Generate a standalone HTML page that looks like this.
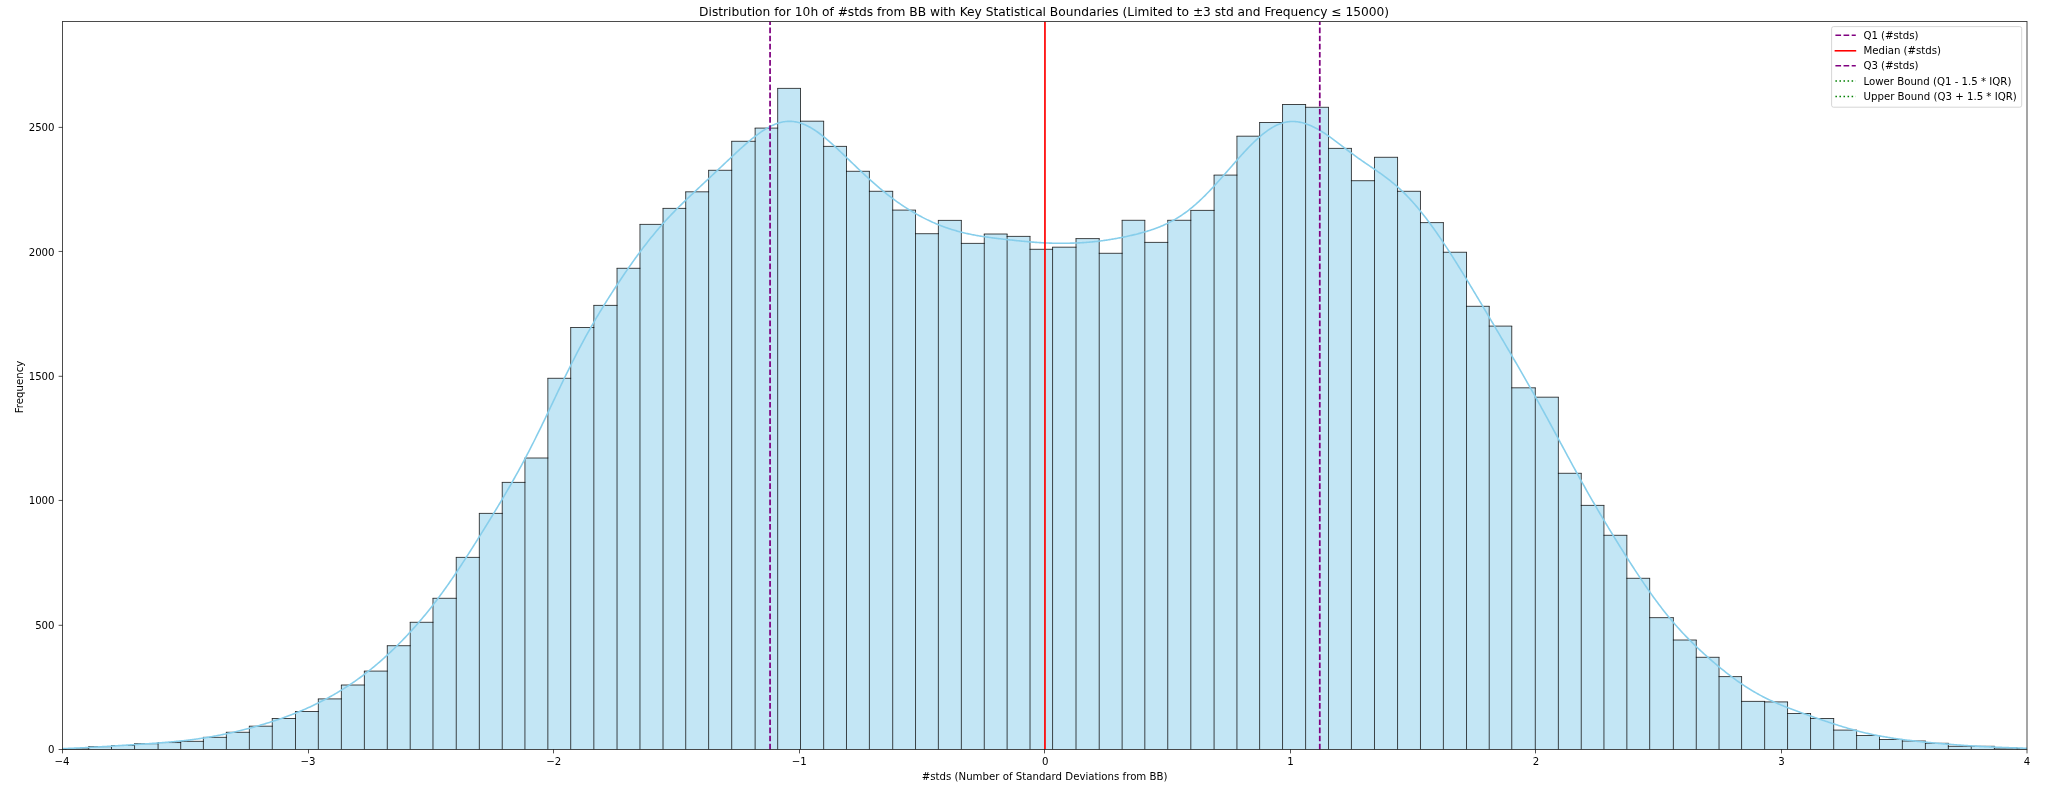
<!DOCTYPE html>
<html lang="en"><head><meta charset="utf-8"><title>Distribution for 10h of #stds from BB</title>
<style>html,body{margin:0;padding:0;background:#fff;}body{width:2047px;height:788px;overflow:hidden;}svg{display:block;}text{font-family:"DejaVu Sans","Liberation Sans",sans-serif;fill:#000;}text{filter:grayscale(1);}</style></head><body>
<svg width="2047" height="788" viewBox="0 0 2047 788">
<rect x="0" y="0" width="2047" height="788" fill="#fff"/>
<defs><clipPath id="ax"><rect x="62.5" y="21.5" width="1964.5" height="728"/></clipPath></defs>
<g clip-path="url(#ax)">
<g fill="#87ceeb" fill-opacity="0.5">
<rect x="19.96" y="749.4" width="22.96" height="0.1"/>
<rect x="42.91" y="749.3" width="22.96" height="0.2"/>
<rect x="65.87" y="748.9" width="22.86" height="0.6"/>
<rect x="88.73" y="746.65" width="22.76" height="2.85"/>
<rect x="111.5" y="745.5" width="23.06" height="4"/>
<rect x="134.56" y="743.7" width="23.51" height="5.8"/>
<rect x="158.08" y="742.55" width="22.61" height="6.95"/>
<rect x="180.69" y="741.35" width="22.69" height="8.15"/>
<rect x="203.38" y="737.35" width="22.99" height="12.15"/>
<rect x="226.37" y="732.3" width="22.99" height="17.2"/>
<rect x="249.36" y="726.2" width="22.91" height="23.3"/>
<rect x="272.27" y="718.5" width="23.21" height="31"/>
<rect x="295.49" y="711.5" width="22.84" height="38"/>
<rect x="318.33" y="698.9" width="23.06" height="50.6"/>
<rect x="341.39" y="685" width="22.99" height="64.5"/>
<rect x="364.38" y="671.1" width="22.91" height="78.4"/>
<rect x="387.3" y="645.7" width="22.91" height="103.8"/>
<rect x="410.21" y="622.3" width="22.76" height="127.2"/>
<rect x="432.97" y="598.3" width="23.29" height="151.2"/>
<rect x="456.26" y="557.4" width="23.06" height="192.1"/>
<rect x="479.33" y="513.4" width="22.91" height="236.1"/>
<rect x="502.24" y="482.4" width="22.69" height="267.1"/>
<rect x="524.93" y="458" width="22.91" height="291.5"/>
<rect x="547.85" y="378.3" width="22.84" height="371.2"/>
<rect x="570.69" y="327.5" width="23.14" height="422"/>
<rect x="593.83" y="305.4" width="23.21" height="444.1"/>
<rect x="617.04" y="268.3" width="22.91" height="481.2"/>
<rect x="639.96" y="224.4" width="23.06" height="525.1"/>
<rect x="663.02" y="208.4" width="22.69" height="541.1"/>
<rect x="685.71" y="191.8" width="22.91" height="557.7"/>
<rect x="708.62" y="170.3" width="23.06" height="579.2"/>
<rect x="731.69" y="141.3" width="23.44" height="608.2"/>
<rect x="755.13" y="128.1" width="22.54" height="621.4"/>
<rect x="777.67" y="88.4" width="22.84" height="661.1"/>
<rect x="800.51" y="121.2" width="23.14" height="628.3"/>
<rect x="823.65" y="146.4" width="22.84" height="603.1"/>
<rect x="846.49" y="171.3" width="22.91" height="578.2"/>
<rect x="869.4" y="191.3" width="23.29" height="558.2"/>
<rect x="892.69" y="210.1" width="22.84" height="539.4"/>
<rect x="915.53" y="233.7" width="22.84" height="515.8"/>
<rect x="938.37" y="220.4" width="22.99" height="529.1"/>
<rect x="961.36" y="243.4" width="22.91" height="506.1"/>
<rect x="984.27" y="234" width="22.84" height="515.5"/>
<rect x="1007.11" y="236.4" width="22.91" height="513.1"/>
<rect x="1030.03" y="249.3" width="22.54" height="500.2"/>
<rect x="1052.57" y="247.2" width="23.44" height="502.3"/>
<rect x="1076.01" y="238.6" width="23.21" height="510.9"/>
<rect x="1099.22" y="253.3" width="22.91" height="496.2"/>
<rect x="1122.13" y="220.3" width="22.69" height="529.2"/>
<rect x="1144.82" y="242.4" width="22.91" height="507.1"/>
<rect x="1167.74" y="220.3" width="23.06" height="529.2"/>
<rect x="1190.8" y="210.4" width="23.29" height="539.1"/>
<rect x="1214.09" y="175.1" width="22.84" height="574.4"/>
<rect x="1236.93" y="136.2" width="22.69" height="613.3"/>
<rect x="1259.62" y="122.5" width="22.91" height="627"/>
<rect x="1282.54" y="104.5" width="23.06" height="645"/>
<rect x="1305.6" y="107.3" width="22.91" height="642.2"/>
<rect x="1328.52" y="148.4" width="22.91" height="601.1"/>
<rect x="1351.43" y="180.7" width="23.06" height="568.8"/>
<rect x="1374.49" y="157.3" width="23.06" height="592.2"/>
<rect x="1397.56" y="191.3" width="22.91" height="558.2"/>
<rect x="1420.47" y="222.6" width="22.91" height="526.9"/>
<rect x="1443.39" y="252.25" width="23.14" height="497.25"/>
<rect x="1466.53" y="306.3" width="22.69" height="443.2"/>
<rect x="1489.22" y="326.1" width="22.54" height="423.4"/>
<rect x="1511.76" y="387.8" width="23.55" height="361.7"/>
<rect x="1535.31" y="397.2" width="23.06" height="352.3"/>
<rect x="1558.37" y="473.3" width="22.88" height="276.2"/>
<rect x="1581.25" y="505.4" width="22.69" height="244.1"/>
<rect x="1603.94" y="535.3" width="22.91" height="214.2"/>
<rect x="1626.85" y="578.3" width="22.8" height="171.2"/>
<rect x="1649.66" y="617.65" width="23.7" height="131.85"/>
<rect x="1673.36" y="640" width="22.91" height="109.5"/>
<rect x="1696.27" y="657.3" width="22.76" height="92.2"/>
<rect x="1719.04" y="676.6" width="22.54" height="72.9"/>
<rect x="1741.58" y="701.4" width="23.06" height="48.1"/>
<rect x="1764.64" y="701.9" width="22.91" height="47.6"/>
<rect x="1787.56" y="713.5" width="22.99" height="36"/>
<rect x="1810.55" y="718.5" width="23.14" height="31"/>
<rect x="1833.68" y="730.1" width="22.91" height="19.4"/>
<rect x="1856.6" y="735.5" width="22.91" height="14"/>
<rect x="1879.51" y="739.5" width="22.84" height="10"/>
<rect x="1902.35" y="741" width="23.06" height="8.5"/>
<rect x="1925.42" y="743.3" width="22.91" height="6.2"/>
<rect x="1948.33" y="746.3" width="22.91" height="3.2"/>
<rect x="1971.25" y="746.3" width="23.14" height="3.2"/>
<rect x="1994.39" y="748" width="22.76" height="1.5"/>
<rect x="2017.15" y="748.6" width="23.11" height="0.9"/>
<rect x="2040.26" y="749" width="22.96" height="0.5"/>
<rect x="2063.22" y="749.3" width="22.96" height="0.2"/>
</g>
<path d="M19.51 749.4h23.86M19.96 749.4V749.5M42.46 749.3h23.86M42.91 749.3V749.5M65.42 748.9h23.76M65.87 748.9V749.5M88.28 746.65h23.66M88.73 746.65V749.5M111.05 745.5h23.96M111.5 745.5V749.5M134.11 743.7h24.41M134.56 743.7V749.5M157.63 742.55h23.51M158.08 742.55V749.5M180.24 741.35h23.59M180.69 741.35V749.5M202.93 737.35h23.89M203.38 737.35V749.5M225.92 732.3h23.89M226.37 732.3V749.5M248.91 726.2h23.81M249.36 726.2V749.5M271.82 718.5h24.11M272.27 718.5V749.5M295.04 711.5h23.74M295.49 711.5V749.5M317.88 698.9h23.96M318.33 698.9V749.5M340.94 685h23.89M341.39 685V749.5M363.93 671.1h23.81M364.38 671.1V749.5M386.85 645.7h23.81M387.3 645.7V749.5M409.76 622.3h23.66M410.21 622.3V749.5M432.52 598.3h24.19M432.97 598.3V749.5M455.81 557.4h23.96M456.26 557.4V749.5M478.88 513.4h23.81M479.33 513.4V749.5M501.79 482.4h23.59M502.24 482.4V749.5M524.48 458h23.81M524.93 458V749.5M547.4 378.3h23.74M547.85 378.3V749.5M570.24 327.5h24.04M570.69 327.5V749.5M593.38 305.4h24.11M593.83 305.4V749.5M616.59 268.3h23.81M617.04 268.3V749.5M639.51 224.4h23.96M639.96 224.4V749.5M662.57 208.4h23.59M663.02 208.4V749.5M685.26 191.8h23.81M685.71 191.8V749.5M708.17 170.3h23.96M708.62 170.3V749.5M731.24 141.3h24.34M731.69 141.3V749.5M754.68 128.1h23.44M755.13 128.1V749.5M777.22 88.4h23.74M777.67 88.4V749.5M800.06 121.2h24.04M800.51 88.4V749.5M823.2 146.4h23.74M823.65 121.2V749.5M846.04 171.3h23.81M846.49 146.4V749.5M868.95 191.3h24.19M869.4 171.3V749.5M892.24 210.1h23.74M892.69 191.3V749.5M915.08 233.7h23.74M915.53 210.1V749.5M937.92 220.4h23.89M938.37 220.4V749.5M960.91 243.4h23.81M961.36 220.4V749.5M983.82 234h23.74M984.27 234V749.5M1006.66 236.4h23.81M1007.11 234V749.5M1029.58 249.3h23.44M1030.03 236.4V749.5M1052.12 247.2h24.34M1052.57 247.2V749.5M1075.56 238.6h24.11M1076.01 238.6V749.5M1098.77 253.3h23.81M1099.22 238.6V749.5M1121.68 220.3h23.59M1122.13 220.3V749.5M1144.37 242.4h23.81M1144.82 220.3V749.5M1167.29 220.3h23.96M1167.74 220.3V749.5M1190.35 210.4h24.19M1190.8 210.4V749.5M1213.64 175.1h23.74M1214.09 175.1V749.5M1236.48 136.2h23.59M1236.93 136.2V749.5M1259.17 122.5h23.81M1259.62 122.5V749.5M1282.09 104.5h23.96M1282.54 104.5V749.5M1305.15 107.3h23.81M1305.6 104.5V749.5M1328.07 148.4h23.81M1328.52 107.3V749.5M1350.98 180.7h23.96M1351.43 148.4V749.5M1374.04 157.3h23.96M1374.49 157.3V749.5M1397.11 191.3h23.81M1397.56 157.3V749.5M1420.02 222.6h23.81M1420.47 191.3V749.5M1442.94 252.25h24.04M1443.39 222.6V749.5M1466.08 306.3h23.59M1466.53 252.25V749.5M1488.77 326.1h23.44M1489.22 306.3V749.5M1511.31 387.8h24.45M1511.76 326.1V749.5M1534.86 397.2h23.96M1535.31 387.8V749.5M1557.92 473.3h23.78M1558.37 397.2V749.5M1580.8 505.4h23.59M1581.25 473.3V749.5M1603.49 535.3h23.81M1603.94 505.4V749.5M1626.4 578.3h23.7M1626.85 535.3V749.5M1649.21 617.65h24.6M1649.66 578.3V749.5M1672.91 640h23.81M1673.36 617.65V749.5M1695.82 657.3h23.66M1696.27 640V749.5M1718.59 676.6h23.44M1719.04 657.3V749.5M1741.13 701.4h23.96M1741.58 676.6V749.5M1764.19 701.9h23.81M1764.64 701.4V749.5M1787.11 713.5h23.89M1787.56 701.9V749.5M1810.1 718.5h24.04M1810.55 713.5V749.5M1833.23 730.1h23.81M1833.68 718.5V749.5M1856.15 735.5h23.81M1856.6 730.1V749.5M1879.06 739.5h23.74M1879.51 735.5V749.5M1901.9 741h23.96M1902.35 739.5V749.5M1924.97 743.3h23.81M1925.42 741V749.5M1947.88 746.3h23.81M1948.33 743.3V749.5M1970.8 746.3h24.04M1971.25 746.3V749.5M1993.94 748h23.66M1994.39 746.3V749.5M2016.7 748.6h24.01M2017.15 748V749.5M2039.81 749h23.86M2040.26 748.6V749.5M2062.77 749.3h23.86M2063.22 749V749.5M2086.18 749.3V749.5" fill="none" stroke="#000" stroke-opacity="0.8" stroke-width="0.9"/>
<path d="M2.5 749.45 L3.5 749.44 L4.5 749.44 L5.5 749.44 L6.5 749.43 L7.5 749.43 L8.5 749.43 L9.5 749.42 L10.5 749.42 L11.5 749.41 L12.5 749.41 L13.5 749.4 L14.5 749.4 L15.5 749.39 L16.5 749.39 L17.5 749.38 L18.5 749.38 L19.5 749.37 L20.5 749.36 L21.5 749.36 L22.5 749.35 L23.5 749.34 L24.5 749.33 L25.5 749.33 L26.5 749.32 L27.5 749.31 L28.5 749.3 L29.5 749.29 L30.5 749.28 L31.5 749.27 L32.5 749.26 L33.5 749.24 L34.5 749.23 L35.5 749.22 L36.5 749.21 L37.5 749.19 L38.5 749.18 L39.5 749.16 L40.5 749.15 L41.5 749.13 L42.5 749.11 L43.5 749.1 L44.5 749.08 L45.5 749.06 L46.5 749.04 L47.5 749.02 L48.5 749 L49.5 748.98 L50.5 748.95 L51.5 748.93 L52.5 748.91 L53.5 748.88 L54.5 748.86 L55.5 748.83 L56.5 748.8 L57.5 748.77 L58.5 748.74 L59.5 748.71 L60.5 748.68 L61.5 748.65 L62.5 748.62 L63.5 748.59 L64.5 748.55 L65.5 748.52 L66.5 748.48 L67.5 748.44 L68.5 748.41 L69.5 748.37 L70.5 748.33 L71.5 748.29 L72.5 748.25 L73.5 748.21 L74.5 748.16 L75.5 748.12 L76.5 748.07 L77.5 748.03 L78.5 747.98 L79.5 747.94 L80.5 747.89 L81.5 747.84 L82.5 747.79 L83.5 747.74 L84.5 747.69 L85.5 747.64 L86.5 747.59 L87.5 747.53 L88.5 747.48 L89.5 747.43 L90.5 747.37 L91.5 747.32 L92.5 747.26 L93.5 747.2 L94.5 747.15 L95.5 747.09 L96.5 747.03 L97.5 746.97 L98.5 746.91 L99.5 746.85 L100.5 746.79 L101.5 746.73 L102.5 746.67 L103.5 746.61 L104.5 746.55 L105.5 746.49 L106.5 746.43 L107.5 746.37 L108.5 746.3 L109.5 746.24 L110.5 746.18 L111.5 746.12 L112.5 746.05 L113.5 745.99 L114.5 745.93 L115.5 745.86 L116.5 745.8 L117.5 745.73 L118.5 745.67 L119.5 745.61 L120.5 745.54 L121.5 745.48 L122.5 745.41 L123.5 745.35 L124.5 745.28 L125.5 745.22 L126.5 745.15 L127.5 745.09 L128.5 745.02 L129.5 744.96 L130.5 744.89 L131.5 744.83 L132.5 744.76 L133.5 744.69 L134.5 744.63 L135.5 744.56 L136.5 744.5 L137.5 744.43 L138.5 744.36 L139.5 744.3 L140.5 744.23 L141.5 744.16 L142.5 744.09 L143.5 744.03 L144.5 743.96 L145.5 743.89 L146.5 743.82 L147.5 743.75 L148.5 743.68 L149.5 743.61 L150.5 743.54 L151.5 743.47 L152.5 743.4 L153.5 743.33 L154.5 743.25 L155.5 743.18 L156.5 743.1 L157.5 743.03 L158.5 742.95 L159.5 742.88 L160.5 742.8 L161.5 742.72 L162.5 742.64 L163.5 742.56 L164.5 742.48 L165.5 742.4 L166.5 742.31 L167.5 742.23 L168.5 742.14 L169.5 742.06 L170.5 741.97 L171.5 741.88 L172.5 741.79 L173.5 741.69 L174.5 741.6 L175.5 741.5 L176.5 741.41 L177.5 741.31 L178.5 741.21 L179.5 741.11 L180.5 741 L181.5 740.9 L182.5 740.79 L183.5 740.68 L184.5 740.57 L185.5 740.45 L186.5 740.34 L187.5 740.22 L188.5 740.1 L189.5 739.98 L190.5 739.85 L191.5 739.73 L192.5 739.6 L193.5 739.47 L194.5 739.33 L195.5 739.2 L196.5 739.06 L197.5 738.92 L198.5 738.78 L199.5 738.63 L200.5 738.48 L201.5 738.33 L202.5 738.18 L203.5 738.03 L204.5 737.87 L205.5 737.71 L206.5 737.55 L207.5 737.38 L208.5 737.22 L209.5 737.05 L210.5 736.87 L211.5 736.7 L212.5 736.52 L213.5 736.34 L214.5 736.16 L215.5 735.97 L216.5 735.79 L217.5 735.6 L218.5 735.4 L219.5 735.21 L220.5 735.01 L221.5 734.81 L222.5 734.61 L223.5 734.4 L224.5 734.2 L225.5 733.99 L226.5 733.77 L227.5 733.56 L228.5 733.34 L229.5 733.12 L230.5 732.9 L231.5 732.68 L232.5 732.45 L233.5 732.22 L234.5 731.99 L235.5 731.75 L236.5 731.52 L237.5 731.28 L238.5 731.04 L239.5 730.79 L240.5 730.55 L241.5 730.3 L242.5 730.05 L243.5 729.79 L244.5 729.54 L245.5 729.28 L246.5 729.02 L247.5 728.76 L248.5 728.5 L249.5 728.23 L250.5 727.96 L251.5 727.69 L252.5 727.41 L253.5 727.14 L254.5 726.86 L255.5 726.58 L256.5 726.29 L257.5 726.01 L258.5 725.72 L259.5 725.43 L260.5 725.14 L261.5 724.84 L262.5 724.54 L263.5 724.24 L264.5 723.94 L265.5 723.64 L266.5 723.33 L267.5 723.02 L268.5 722.71 L269.5 722.39 L270.5 722.07 L271.5 721.75 L272.5 721.43 L273.5 721.1 L274.5 720.77 L275.5 720.44 L276.5 720.1 L277.5 719.77 L278.5 719.43 L279.5 719.08 L280.5 718.74 L281.5 718.39 L282.5 718.03 L283.5 717.68 L284.5 717.32 L285.5 716.95 L286.5 716.59 L287.5 716.22 L288.5 715.85 L289.5 715.47 L290.5 715.09 L291.5 714.71 L292.5 714.32 L293.5 713.93 L294.5 713.54 L295.5 713.14 L296.5 712.74 L297.5 712.33 L298.5 711.92 L299.5 711.51 L300.5 711.09 L301.5 710.67 L302.5 710.24 L303.5 709.81 L304.5 709.38 L305.5 708.94 L306.5 708.5 L307.5 708.05 L308.5 707.6 L309.5 707.15 L310.5 706.69 L311.5 706.22 L312.5 705.75 L313.5 705.28 L314.5 704.8 L315.5 704.32 L316.5 703.83 L317.5 703.34 L318.5 702.85 L319.5 702.34 L320.5 701.84 L321.5 701.33 L322.5 700.81 L323.5 700.29 L324.5 699.77 L325.5 699.24 L326.5 698.7 L327.5 698.16 L328.5 697.62 L329.5 697.07 L330.5 696.51 L331.5 695.95 L332.5 695.39 L333.5 694.82 L334.5 694.24 L335.5 693.66 L336.5 693.07 L337.5 692.48 L338.5 691.88 L339.5 691.28 L340.5 690.67 L341.5 690.06 L342.5 689.44 L343.5 688.81 L344.5 688.18 L345.5 687.54 L346.5 686.9 L347.5 686.25 L348.5 685.6 L349.5 684.94 L350.5 684.27 L351.5 683.6 L352.5 682.92 L353.5 682.23 L354.5 681.54 L355.5 680.84 L356.5 680.13 L357.5 679.42 L358.5 678.7 L359.5 677.98 L360.5 677.25 L361.5 676.51 L362.5 675.77 L363.5 675.01 L364.5 674.26 L365.5 673.49 L366.5 672.72 L367.5 671.94 L368.5 671.15 L369.5 670.36 L370.5 669.56 L371.5 668.75 L372.5 667.94 L373.5 667.12 L374.5 666.29 L375.5 665.45 L376.5 664.61 L377.5 663.76 L378.5 662.91 L379.5 662.04 L380.5 661.17 L381.5 660.29 L382.5 659.41 L383.5 658.52 L384.5 657.62 L385.5 656.71 L386.5 655.8 L387.5 654.88 L388.5 653.95 L389.5 653.01 L390.5 652.07 L391.5 651.12 L392.5 650.17 L393.5 649.2 L394.5 648.23 L395.5 647.26 L396.5 646.27 L397.5 645.28 L398.5 644.28 L399.5 643.27 L400.5 642.26 L401.5 641.24 L402.5 640.21 L403.5 639.18 L404.5 638.13 L405.5 637.08 L406.5 636.02 L407.5 634.96 L408.5 633.89 L409.5 632.81 L410.5 631.72 L411.5 630.62 L412.5 629.52 L413.5 628.4 L414.5 627.28 L415.5 626.16 L416.5 625.02 L417.5 623.88 L418.5 622.72 L419.5 621.56 L420.5 620.39 L421.5 619.21 L422.5 618.03 L423.5 616.83 L424.5 615.63 L425.5 614.41 L426.5 613.19 L427.5 611.96 L428.5 610.72 L429.5 609.47 L430.5 608.21 L431.5 606.94 L432.5 605.66 L433.5 604.37 L434.5 603.08 L435.5 601.77 L436.5 600.46 L437.5 599.13 L438.5 597.8 L439.5 596.45 L440.5 595.1 L441.5 593.74 L442.5 592.37 L443.5 590.98 L444.5 589.59 L445.5 588.2 L446.5 586.79 L447.5 585.37 L448.5 583.94 L449.5 582.51 L450.5 581.07 L451.5 579.62 L452.5 578.16 L453.5 576.69 L454.5 575.21 L455.5 573.73 L456.5 572.24 L457.5 570.74 L458.5 569.24 L459.5 567.73 L460.5 566.21 L461.5 564.69 L462.5 563.16 L463.5 561.62 L464.5 560.08 L465.5 558.53 L466.5 556.98 L467.5 555.42 L468.5 553.86 L469.5 552.29 L470.5 550.72 L471.5 549.15 L472.5 547.57 L473.5 545.98 L474.5 544.4 L475.5 542.81 L476.5 541.21 L477.5 539.62 L478.5 538.02 L479.5 536.41 L480.5 534.81 L481.5 533.2 L482.5 531.59 L483.5 529.98 L484.5 528.36 L485.5 526.74 L486.5 525.12 L487.5 523.5 L488.5 521.87 L489.5 520.24 L490.5 518.61 L491.5 516.97 L492.5 515.33 L493.5 513.69 L494.5 512.04 L495.5 510.39 L496.5 508.74 L497.5 507.08 L498.5 505.42 L499.5 503.76 L500.5 502.08 L501.5 500.41 L502.5 498.73 L503.5 497.04 L504.5 495.34 L505.5 493.64 L506.5 491.93 L507.5 490.22 L508.5 488.5 L509.5 486.77 L510.5 485.03 L511.5 483.28 L512.5 481.53 L513.5 479.76 L514.5 477.99 L515.5 476.21 L516.5 474.41 L517.5 472.61 L518.5 470.79 L519.5 468.97 L520.5 467.13 L521.5 465.29 L522.5 463.43 L523.5 461.56 L524.5 459.68 L525.5 457.79 L526.5 455.88 L527.5 453.97 L528.5 452.04 L529.5 450.1 L530.5 448.15 L531.5 446.19 L532.5 444.22 L533.5 442.24 L534.5 440.25 L535.5 438.24 L536.5 436.23 L537.5 434.21 L538.5 432.18 L539.5 430.14 L540.5 428.09 L541.5 426.03 L542.5 423.97 L543.5 421.9 L544.5 419.82 L545.5 417.74 L546.5 415.65 L547.5 413.56 L548.5 411.46 L549.5 409.36 L550.5 407.26 L551.5 405.16 L552.5 403.05 L553.5 400.95 L554.5 398.84 L555.5 396.74 L556.5 394.63 L557.5 392.53 L558.5 390.44 L559.5 388.34 L560.5 386.25 L561.5 384.17 L562.5 382.09 L563.5 380.02 L564.5 377.96 L565.5 375.9 L566.5 373.85 L567.5 371.81 L568.5 369.78 L569.5 367.76 L570.5 365.74 L571.5 363.74 L572.5 361.75 L573.5 359.77 L574.5 357.81 L575.5 355.85 L576.5 353.91 L577.5 351.97 L578.5 350.06 L579.5 348.15 L580.5 346.26 L581.5 344.37 L582.5 342.51 L583.5 340.65 L584.5 338.81 L585.5 336.98 L586.5 335.16 L587.5 333.36 L588.5 331.57 L589.5 329.79 L590.5 328.02 L591.5 326.27 L592.5 324.53 L593.5 322.8 L594.5 321.08 L595.5 319.37 L596.5 317.68 L597.5 315.99 L598.5 314.32 L599.5 312.65 L600.5 311 L601.5 309.36 L602.5 307.72 L603.5 306.1 L604.5 304.48 L605.5 302.87 L606.5 301.27 L607.5 299.68 L608.5 298.1 L609.5 296.53 L610.5 294.96 L611.5 293.4 L612.5 291.85 L613.5 290.31 L614.5 288.77 L615.5 287.24 L616.5 285.72 L617.5 284.2 L618.5 282.69 L619.5 281.19 L620.5 279.69 L621.5 278.2 L622.5 276.72 L623.5 275.24 L624.5 273.78 L625.5 272.31 L626.5 270.86 L627.5 269.41 L628.5 267.97 L629.5 266.53 L630.5 265.11 L631.5 263.69 L632.5 262.28 L633.5 260.87 L634.5 259.48 L635.5 258.09 L636.5 256.71 L637.5 255.34 L638.5 253.98 L639.5 252.62 L640.5 251.28 L641.5 249.94 L642.5 248.61 L643.5 247.3 L644.5 245.99 L645.5 244.69 L646.5 243.4 L647.5 242.12 L648.5 240.85 L649.5 239.59 L650.5 238.34 L651.5 237.11 L652.5 235.88 L653.5 234.66 L654.5 233.45 L655.5 232.25 L656.5 231.07 L657.5 229.89 L658.5 228.72 L659.5 227.56 L660.5 226.42 L661.5 225.28 L662.5 224.15 L663.5 223.03 L664.5 221.93 L665.5 220.83 L666.5 219.74 L667.5 218.66 L668.5 217.59 L669.5 216.52 L670.5 215.47 L671.5 214.42 L672.5 213.38 L673.5 212.35 L674.5 211.33 L675.5 210.31 L676.5 209.3 L677.5 208.29 L678.5 207.3 L679.5 206.3 L680.5 205.32 L681.5 204.34 L682.5 203.36 L683.5 202.39 L684.5 201.42 L685.5 200.46 L686.5 199.5 L687.5 198.54 L688.5 197.59 L689.5 196.64 L690.5 195.69 L691.5 194.74 L692.5 193.8 L693.5 192.86 L694.5 191.91 L695.5 190.98 L696.5 190.04 L697.5 189.1 L698.5 188.16 L699.5 187.23 L700.5 186.29 L701.5 185.35 L702.5 184.42 L703.5 183.48 L704.5 182.54 L705.5 181.61 L706.5 180.67 L707.5 179.73 L708.5 178.79 L709.5 177.85 L710.5 176.91 L711.5 175.97 L712.5 175.03 L713.5 174.09 L714.5 173.14 L715.5 172.2 L716.5 171.25 L717.5 170.31 L718.5 169.36 L719.5 168.42 L720.5 167.47 L721.5 166.52 L722.5 165.58 L723.5 164.63 L724.5 163.68 L725.5 162.74 L726.5 161.79 L727.5 160.85 L728.5 159.91 L729.5 158.96 L730.5 158.02 L731.5 157.09 L732.5 156.15 L733.5 155.22 L734.5 154.29 L735.5 153.36 L736.5 152.43 L737.5 151.51 L738.5 150.6 L739.5 149.68 L740.5 148.78 L741.5 147.87 L742.5 146.98 L743.5 146.09 L744.5 145.2 L745.5 144.33 L746.5 143.46 L747.5 142.6 L748.5 141.75 L749.5 140.9 L750.5 140.07 L751.5 139.24 L752.5 138.43 L753.5 137.63 L754.5 136.84 L755.5 136.06 L756.5 135.3 L757.5 134.55 L758.5 133.81 L759.5 133.09 L760.5 132.39 L761.5 131.7 L762.5 131.02 L763.5 130.37 L764.5 129.73 L765.5 129.11 L766.5 128.51 L767.5 127.93 L768.5 127.37 L769.5 126.84 L770.5 126.32 L771.5 125.83 L772.5 125.35 L773.5 124.91 L774.5 124.48 L775.5 124.08 L776.5 123.71 L777.5 123.36 L778.5 123.04 L779.5 122.74 L780.5 122.47 L781.5 122.23 L782.5 122.02 L783.5 121.83 L784.5 121.67 L785.5 121.54 L786.5 121.44 L787.5 121.37 L788.5 121.33 L789.5 121.31 L790.5 121.33 L791.5 121.37 L792.5 121.44 L793.5 121.55 L794.5 121.68 L795.5 121.84 L796.5 122.03 L797.5 122.24 L798.5 122.49 L799.5 122.76 L800.5 123.07 L801.5 123.4 L802.5 123.75 L803.5 124.14 L804.5 124.55 L805.5 124.98 L806.5 125.44 L807.5 125.93 L808.5 126.44 L809.5 126.97 L810.5 127.53 L811.5 128.11 L812.5 128.71 L813.5 129.34 L814.5 129.98 L815.5 130.65 L816.5 131.33 L817.5 132.03 L818.5 132.75 L819.5 133.49 L820.5 134.24 L821.5 135.01 L822.5 135.8 L823.5 136.6 L824.5 137.41 L825.5 138.24 L826.5 139.08 L827.5 139.93 L828.5 140.79 L829.5 141.66 L830.5 142.54 L831.5 143.44 L832.5 144.34 L833.5 145.24 L834.5 146.16 L835.5 147.08 L836.5 148.01 L837.5 148.94 L838.5 149.88 L839.5 150.82 L840.5 151.77 L841.5 152.72 L842.5 153.67 L843.5 154.62 L844.5 155.58 L845.5 156.54 L846.5 157.5 L847.5 158.46 L848.5 159.43 L849.5 160.39 L850.5 161.35 L851.5 162.31 L852.5 163.27 L853.5 164.23 L854.5 165.19 L855.5 166.15 L856.5 167.1 L857.5 168.06 L858.5 169.01 L859.5 169.96 L860.5 170.9 L861.5 171.84 L862.5 172.78 L863.5 173.72 L864.5 174.65 L865.5 175.58 L866.5 176.5 L867.5 177.42 L868.5 178.33 L869.5 179.24 L870.5 180.15 L871.5 181.04 L872.5 181.94 L873.5 182.83 L874.5 183.71 L875.5 184.58 L876.5 185.45 L877.5 186.32 L878.5 187.17 L879.5 188.02 L880.5 188.87 L881.5 189.7 L882.5 190.53 L883.5 191.35 L884.5 192.17 L885.5 192.97 L886.5 193.77 L887.5 194.56 L888.5 195.35 L889.5 196.12 L890.5 196.89 L891.5 197.65 L892.5 198.4 L893.5 199.14 L894.5 199.88 L895.5 200.61 L896.5 201.33 L897.5 202.04 L898.5 202.74 L899.5 203.44 L900.5 204.13 L901.5 204.81 L902.5 205.48 L903.5 206.14 L904.5 206.8 L905.5 207.44 L906.5 208.08 L907.5 208.72 L908.5 209.34 L909.5 209.96 L910.5 210.57 L911.5 211.17 L912.5 211.77 L913.5 212.36 L914.5 212.94 L915.5 213.51 L916.5 214.08 L917.5 214.64 L918.5 215.2 L919.5 215.74 L920.5 216.28 L921.5 216.82 L922.5 217.34 L923.5 217.86 L924.5 218.37 L925.5 218.88 L926.5 219.37 L927.5 219.86 L928.5 220.34 L929.5 220.81 L930.5 221.28 L931.5 221.74 L932.5 222.19 L933.5 222.63 L934.5 223.07 L935.5 223.49 L936.5 223.91 L937.5 224.33 L938.5 224.73 L939.5 225.13 L940.5 225.52 L941.5 225.91 L942.5 226.29 L943.5 226.66 L944.5 227.02 L945.5 227.38 L946.5 227.73 L947.5 228.08 L948.5 228.41 L949.5 228.74 L950.5 229.07 L951.5 229.39 L952.5 229.7 L953.5 230.01 L954.5 230.31 L955.5 230.6 L956.5 230.89 L957.5 231.17 L958.5 231.44 L959.5 231.71 L960.5 231.97 L961.5 232.23 L962.5 232.48 L963.5 232.72 L964.5 232.96 L965.5 233.19 L966.5 233.42 L967.5 233.64 L968.5 233.86 L969.5 234.07 L970.5 234.28 L971.5 234.48 L972.5 234.68 L973.5 234.87 L974.5 235.06 L975.5 235.24 L976.5 235.42 L977.5 235.6 L978.5 235.77 L979.5 235.94 L980.5 236.1 L981.5 236.26 L982.5 236.42 L983.5 236.57 L984.5 236.73 L985.5 236.87 L986.5 237.02 L987.5 237.16 L988.5 237.3 L989.5 237.44 L990.5 237.58 L991.5 237.71 L992.5 237.84 L993.5 237.97 L994.5 238.1 L995.5 238.22 L996.5 238.35 L997.5 238.47 L998.5 238.59 L999.5 238.71 L1000.5 238.83 L1001.5 238.95 L1002.5 239.06 L1003.5 239.18 L1004.5 239.29 L1005.5 239.4 L1006.5 239.52 L1007.5 239.63 L1008.5 239.74 L1009.5 239.84 L1010.5 239.95 L1011.5 240.06 L1012.5 240.16 L1013.5 240.27 L1014.5 240.37 L1015.5 240.48 L1016.5 240.58 L1017.5 240.68 L1018.5 240.78 L1019.5 240.88 L1020.5 240.98 L1021.5 241.08 L1022.5 241.18 L1023.5 241.28 L1024.5 241.37 L1025.5 241.47 L1026.5 241.56 L1027.5 241.65 L1028.5 241.74 L1029.5 241.83 L1030.5 241.92 L1031.5 242 L1032.5 242.09 L1033.5 242.17 L1034.5 242.25 L1035.5 242.33 L1036.5 242.4 L1037.5 242.47 L1038.5 242.54 L1039.5 242.61 L1040.5 242.67 L1041.5 242.74 L1042.5 242.79 L1043.5 242.85 L1044.5 242.9 L1045.5 242.95 L1046.5 242.99 L1047.5 243.03 L1048.5 243.07 L1049.5 243.1 L1050.5 243.13 L1051.5 243.16 L1052.5 243.18 L1053.5 243.2 L1054.5 243.22 L1055.5 243.24 L1056.5 243.25 L1057.5 243.26 L1058.5 243.27 L1059.5 243.27 L1060.5 243.27 L1061.5 243.27 L1062.5 243.27 L1063.5 243.26 L1064.5 243.25 L1065.5 243.24 L1066.5 243.23 L1067.5 243.22 L1068.5 243.2 L1069.5 243.18 L1070.5 243.16 L1071.5 243.14 L1072.5 243.11 L1073.5 243.08 L1074.5 243.05 L1075.5 243.01 L1076.5 242.97 L1077.5 242.93 L1078.5 242.88 L1079.5 242.84 L1080.5 242.78 L1081.5 242.73 L1082.5 242.67 L1083.5 242.61 L1084.5 242.54 L1085.5 242.47 L1086.5 242.39 L1087.5 242.32 L1088.5 242.23 L1089.5 242.15 L1090.5 242.06 L1091.5 241.97 L1092.5 241.87 L1093.5 241.77 L1094.5 241.66 L1095.5 241.55 L1096.5 241.44 L1097.5 241.33 L1098.5 241.21 L1099.5 241.08 L1100.5 240.95 L1101.5 240.82 L1102.5 240.69 L1103.5 240.55 L1104.5 240.41 L1105.5 240.26 L1106.5 240.12 L1107.5 239.96 L1108.5 239.81 L1109.5 239.65 L1110.5 239.49 L1111.5 239.33 L1112.5 239.16 L1113.5 238.99 L1114.5 238.81 L1115.5 238.63 L1116.5 238.45 L1117.5 238.27 L1118.5 238.08 L1119.5 237.89 L1120.5 237.7 L1121.5 237.51 L1122.5 237.31 L1123.5 237.1 L1124.5 236.9 L1125.5 236.69 L1126.5 236.48 L1127.5 236.26 L1128.5 236.04 L1129.5 235.82 L1130.5 235.59 L1131.5 235.36 L1132.5 235.13 L1133.5 234.89 L1134.5 234.65 L1135.5 234.41 L1136.5 234.16 L1137.5 233.9 L1138.5 233.65 L1139.5 233.38 L1140.5 233.12 L1141.5 232.85 L1142.5 232.57 L1143.5 232.29 L1144.5 232 L1145.5 231.71 L1146.5 231.41 L1147.5 231.11 L1148.5 230.8 L1149.5 230.48 L1150.5 230.16 L1151.5 229.83 L1152.5 229.5 L1153.5 229.15 L1154.5 228.8 L1155.5 228.44 L1156.5 228.07 L1157.5 227.7 L1158.5 227.31 L1159.5 226.92 L1160.5 226.51 L1161.5 226.1 L1162.5 225.67 L1163.5 225.24 L1164.5 224.79 L1165.5 224.34 L1166.5 223.87 L1167.5 223.39 L1168.5 222.9 L1169.5 222.39 L1170.5 221.88 L1171.5 221.35 L1172.5 220.81 L1173.5 220.25 L1174.5 219.69 L1175.5 219.11 L1176.5 218.51 L1177.5 217.9 L1178.5 217.28 L1179.5 216.64 L1180.5 215.99 L1181.5 215.33 L1182.5 214.65 L1183.5 213.95 L1184.5 213.24 L1185.5 212.52 L1186.5 211.78 L1187.5 211.03 L1188.5 210.26 L1189.5 209.48 L1190.5 208.68 L1191.5 207.87 L1192.5 207.05 L1193.5 206.21 L1194.5 205.35 L1195.5 204.48 L1196.5 203.6 L1197.5 202.7 L1198.5 201.79 L1199.5 200.87 L1200.5 199.93 L1201.5 198.99 L1202.5 198.02 L1203.5 197.05 L1204.5 196.06 L1205.5 195.07 L1206.5 194.06 L1207.5 193.04 L1208.5 192.01 L1209.5 190.97 L1210.5 189.91 L1211.5 188.85 L1212.5 187.79 L1213.5 186.71 L1214.5 185.62 L1215.5 184.53 L1216.5 183.43 L1217.5 182.32 L1218.5 181.21 L1219.5 180.09 L1220.5 178.97 L1221.5 177.84 L1222.5 176.71 L1223.5 175.57 L1224.5 174.43 L1225.5 173.29 L1226.5 172.15 L1227.5 171 L1228.5 169.85 L1229.5 168.71 L1230.5 167.56 L1231.5 166.41 L1232.5 165.26 L1233.5 164.12 L1234.5 162.97 L1235.5 161.83 L1236.5 160.7 L1237.5 159.56 L1238.5 158.43 L1239.5 157.31 L1240.5 156.19 L1241.5 155.08 L1242.5 153.97 L1243.5 152.88 L1244.5 151.79 L1245.5 150.71 L1246.5 149.64 L1247.5 148.58 L1248.5 147.53 L1249.5 146.49 L1250.5 145.47 L1251.5 144.46 L1252.5 143.46 L1253.5 142.48 L1254.5 141.52 L1255.5 140.57 L1256.5 139.64 L1257.5 138.72 L1258.5 137.82 L1259.5 136.94 L1260.5 136.08 L1261.5 135.24 L1262.5 134.42 L1263.5 133.62 L1264.5 132.84 L1265.5 132.08 L1266.5 131.35 L1267.5 130.63 L1268.5 129.94 L1269.5 129.28 L1270.5 128.63 L1271.5 128.02 L1272.5 127.42 L1273.5 126.86 L1274.5 126.31 L1275.5 125.8 L1276.5 125.31 L1277.5 124.85 L1278.5 124.42 L1279.5 124.02 L1280.5 123.65 L1281.5 123.3 L1282.5 122.99 L1283.5 122.7 L1284.5 122.45 L1285.5 122.22 L1286.5 122.03 L1287.5 121.87 L1288.5 121.73 L1289.5 121.63 L1290.5 121.55 L1291.5 121.51 L1292.5 121.49 L1293.5 121.5 L1294.5 121.54 L1295.5 121.61 L1296.5 121.71 L1297.5 121.83 L1298.5 121.98 L1299.5 122.15 L1300.5 122.35 L1301.5 122.57 L1302.5 122.81 L1303.5 123.08 L1304.5 123.37 L1305.5 123.69 L1306.5 124.02 L1307.5 124.38 L1308.5 124.75 L1309.5 125.15 L1310.5 125.57 L1311.5 126.01 L1312.5 126.46 L1313.5 126.94 L1314.5 127.43 L1315.5 127.94 L1316.5 128.47 L1317.5 129.02 L1318.5 129.58 L1319.5 130.16 L1320.5 130.76 L1321.5 131.37 L1322.5 131.99 L1323.5 132.63 L1324.5 133.29 L1325.5 133.95 L1326.5 134.63 L1327.5 135.32 L1328.5 136.01 L1329.5 136.72 L1330.5 137.44 L1331.5 138.16 L1332.5 138.9 L1333.5 139.64 L1334.5 140.38 L1335.5 141.13 L1336.5 141.88 L1337.5 142.64 L1338.5 143.4 L1339.5 144.16 L1340.5 144.92 L1341.5 145.68 L1342.5 146.45 L1343.5 147.21 L1344.5 147.97 L1345.5 148.73 L1346.5 149.49 L1347.5 150.24 L1348.5 151 L1349.5 151.75 L1350.5 152.49 L1351.5 153.23 L1352.5 153.97 L1353.5 154.7 L1354.5 155.43 L1355.5 156.15 L1356.5 156.87 L1357.5 157.59 L1358.5 158.3 L1359.5 159 L1360.5 159.7 L1361.5 160.4 L1362.5 161.09 L1363.5 161.78 L1364.5 162.47 L1365.5 163.15 L1366.5 163.84 L1367.5 164.52 L1368.5 165.2 L1369.5 165.88 L1370.5 166.55 L1371.5 167.23 L1372.5 167.91 L1373.5 168.59 L1374.5 169.28 L1375.5 169.96 L1376.5 170.65 L1377.5 171.35 L1378.5 172.04 L1379.5 172.75 L1380.5 173.45 L1381.5 174.17 L1382.5 174.89 L1383.5 175.62 L1384.5 176.35 L1385.5 177.1 L1386.5 177.85 L1387.5 178.61 L1388.5 179.39 L1389.5 180.17 L1390.5 180.96 L1391.5 181.77 L1392.5 182.58 L1393.5 183.41 L1394.5 184.25 L1395.5 185.11 L1396.5 185.97 L1397.5 186.85 L1398.5 187.75 L1399.5 188.66 L1400.5 189.58 L1401.5 190.52 L1402.5 191.47 L1403.5 192.43 L1404.5 193.42 L1405.5 194.41 L1406.5 195.42 L1407.5 196.45 L1408.5 197.49 L1409.5 198.55 L1410.5 199.63 L1411.5 200.71 L1412.5 201.82 L1413.5 202.94 L1414.5 204.07 L1415.5 205.22 L1416.5 206.39 L1417.5 207.57 L1418.5 208.76 L1419.5 209.97 L1420.5 211.19 L1421.5 212.43 L1422.5 213.68 L1423.5 214.95 L1424.5 216.23 L1425.5 217.52 L1426.5 218.83 L1427.5 220.15 L1428.5 221.48 L1429.5 222.82 L1430.5 224.18 L1431.5 225.55 L1432.5 226.93 L1433.5 228.32 L1434.5 229.73 L1435.5 231.14 L1436.5 232.57 L1437.5 234.01 L1438.5 235.45 L1439.5 236.91 L1440.5 238.38 L1441.5 239.86 L1442.5 241.34 L1443.5 242.84 L1444.5 244.34 L1445.5 245.86 L1446.5 247.38 L1447.5 248.91 L1448.5 250.44 L1449.5 251.99 L1450.5 253.54 L1451.5 255.1 L1452.5 256.67 L1453.5 258.24 L1454.5 259.82 L1455.5 261.41 L1456.5 263 L1457.5 264.6 L1458.5 266.21 L1459.5 267.82 L1460.5 269.43 L1461.5 271.05 L1462.5 272.68 L1463.5 274.3 L1464.5 275.94 L1465.5 277.57 L1466.5 279.22 L1467.5 280.86 L1468.5 282.51 L1469.5 284.16 L1470.5 285.82 L1471.5 287.48 L1472.5 289.14 L1473.5 290.8 L1474.5 292.47 L1475.5 294.14 L1476.5 295.81 L1477.5 297.48 L1478.5 299.16 L1479.5 300.83 L1480.5 302.51 L1481.5 304.19 L1482.5 305.87 L1483.5 307.56 L1484.5 309.24 L1485.5 310.93 L1486.5 312.62 L1487.5 314.31 L1488.5 316 L1489.5 317.69 L1490.5 319.38 L1491.5 321.07 L1492.5 322.76 L1493.5 324.46 L1494.5 326.15 L1495.5 327.85 L1496.5 329.55 L1497.5 331.25 L1498.5 332.94 L1499.5 334.64 L1500.5 336.34 L1501.5 338.04 L1502.5 339.75 L1503.5 341.45 L1504.5 343.15 L1505.5 344.86 L1506.5 346.57 L1507.5 348.27 L1508.5 349.98 L1509.5 351.69 L1510.5 353.4 L1511.5 355.12 L1512.5 356.83 L1513.5 358.55 L1514.5 360.27 L1515.5 361.99 L1516.5 363.71 L1517.5 365.43 L1518.5 367.16 L1519.5 368.89 L1520.5 370.62 L1521.5 372.36 L1522.5 374.09 L1523.5 375.84 L1524.5 377.58 L1525.5 379.33 L1526.5 381.08 L1527.5 382.83 L1528.5 384.59 L1529.5 386.35 L1530.5 388.11 L1531.5 389.88 L1532.5 391.65 L1533.5 393.43 L1534.5 395.21 L1535.5 397 L1536.5 398.78 L1537.5 400.58 L1538.5 402.37 L1539.5 404.18 L1540.5 405.98 L1541.5 407.79 L1542.5 409.6 L1543.5 411.42 L1544.5 413.24 L1545.5 415.07 L1546.5 416.9 L1547.5 418.73 L1548.5 420.57 L1549.5 422.41 L1550.5 424.25 L1551.5 426.09 L1552.5 427.94 L1553.5 429.79 L1554.5 431.64 L1555.5 433.5 L1556.5 435.35 L1557.5 437.21 L1558.5 439.07 L1559.5 440.92 L1560.5 442.78 L1561.5 444.64 L1562.5 446.5 L1563.5 448.36 L1564.5 450.22 L1565.5 452.07 L1566.5 453.93 L1567.5 455.78 L1568.5 457.63 L1569.5 459.48 L1570.5 461.32 L1571.5 463.17 L1572.5 465.01 L1573.5 466.84 L1574.5 468.67 L1575.5 470.5 L1576.5 472.32 L1577.5 474.14 L1578.5 475.96 L1579.5 477.77 L1580.5 479.57 L1581.5 481.37 L1582.5 483.16 L1583.5 484.95 L1584.5 486.73 L1585.5 488.51 L1586.5 490.28 L1587.5 492.05 L1588.5 493.81 L1589.5 495.56 L1590.5 497.31 L1591.5 499.05 L1592.5 500.78 L1593.5 502.51 L1594.5 504.24 L1595.5 505.96 L1596.5 507.67 L1597.5 509.38 L1598.5 511.08 L1599.5 512.78 L1600.5 514.47 L1601.5 516.15 L1602.5 517.83 L1603.5 519.51 L1604.5 521.18 L1605.5 522.85 L1606.5 524.51 L1607.5 526.17 L1608.5 527.82 L1609.5 529.47 L1610.5 531.12 L1611.5 532.76 L1612.5 534.39 L1613.5 536.02 L1614.5 537.65 L1615.5 539.28 L1616.5 540.9 L1617.5 542.51 L1618.5 544.13 L1619.5 545.73 L1620.5 547.34 L1621.5 548.94 L1622.5 550.53 L1623.5 552.13 L1624.5 553.71 L1625.5 555.3 L1626.5 556.88 L1627.5 558.45 L1628.5 560.02 L1629.5 561.59 L1630.5 563.15 L1631.5 564.7 L1632.5 566.25 L1633.5 567.79 L1634.5 569.33 L1635.5 570.86 L1636.5 572.39 L1637.5 573.91 L1638.5 575.42 L1639.5 576.93 L1640.5 578.43 L1641.5 579.92 L1642.5 581.4 L1643.5 582.88 L1644.5 584.34 L1645.5 585.8 L1646.5 587.26 L1647.5 588.7 L1648.5 590.13 L1649.5 591.56 L1650.5 592.97 L1651.5 594.38 L1652.5 595.77 L1653.5 597.16 L1654.5 598.53 L1655.5 599.9 L1656.5 601.25 L1657.5 602.6 L1658.5 603.93 L1659.5 605.26 L1660.5 606.57 L1661.5 607.87 L1662.5 609.16 L1663.5 610.44 L1664.5 611.71 L1665.5 612.97 L1666.5 614.21 L1667.5 615.45 L1668.5 616.67 L1669.5 617.88 L1670.5 619.08 L1671.5 620.27 L1672.5 621.45 L1673.5 622.62 L1674.5 623.78 L1675.5 624.93 L1676.5 626.06 L1677.5 627.19 L1678.5 628.3 L1679.5 629.41 L1680.5 630.5 L1681.5 631.59 L1682.5 632.67 L1683.5 633.73 L1684.5 634.79 L1685.5 635.84 L1686.5 636.88 L1687.5 637.91 L1688.5 638.93 L1689.5 639.94 L1690.5 640.94 L1691.5 641.94 L1692.5 642.93 L1693.5 643.91 L1694.5 644.88 L1695.5 645.85 L1696.5 646.81 L1697.5 647.76 L1698.5 648.71 L1699.5 649.64 L1700.5 650.58 L1701.5 651.5 L1702.5 652.42 L1703.5 653.34 L1704.5 654.24 L1705.5 655.14 L1706.5 656.04 L1707.5 656.93 L1708.5 657.82 L1709.5 658.69 L1710.5 659.57 L1711.5 660.44 L1712.5 661.3 L1713.5 662.16 L1714.5 663.01 L1715.5 663.86 L1716.5 664.7 L1717.5 665.53 L1718.5 666.36 L1719.5 667.19 L1720.5 668.01 L1721.5 668.82 L1722.5 669.63 L1723.5 670.44 L1724.5 671.23 L1725.5 672.02 L1726.5 672.81 L1727.5 673.59 L1728.5 674.36 L1729.5 675.13 L1730.5 675.89 L1731.5 676.65 L1732.5 677.39 L1733.5 678.14 L1734.5 678.87 L1735.5 679.6 L1736.5 680.32 L1737.5 681.03 L1738.5 681.74 L1739.5 682.44 L1740.5 683.13 L1741.5 683.82 L1742.5 684.5 L1743.5 685.17 L1744.5 685.83 L1745.5 686.48 L1746.5 687.13 L1747.5 687.77 L1748.5 688.4 L1749.5 689.02 L1750.5 689.64 L1751.5 690.25 L1752.5 690.85 L1753.5 691.44 L1754.5 692.02 L1755.5 692.6 L1756.5 693.17 L1757.5 693.73 L1758.5 694.28 L1759.5 694.83 L1760.5 695.36 L1761.5 695.9 L1762.5 696.42 L1763.5 696.94 L1764.5 697.45 L1765.5 697.95 L1766.5 698.44 L1767.5 698.93 L1768.5 699.42 L1769.5 699.89 L1770.5 700.36 L1771.5 700.83 L1772.5 701.28 L1773.5 701.74 L1774.5 702.18 L1775.5 702.63 L1776.5 703.06 L1777.5 703.49 L1778.5 703.92 L1779.5 704.34 L1780.5 704.76 L1781.5 705.17 L1782.5 705.58 L1783.5 705.99 L1784.5 706.39 L1785.5 706.79 L1786.5 707.18 L1787.5 707.57 L1788.5 707.96 L1789.5 708.35 L1790.5 708.73 L1791.5 709.11 L1792.5 709.49 L1793.5 709.87 L1794.5 710.24 L1795.5 710.61 L1796.5 710.98 L1797.5 711.35 L1798.5 711.71 L1799.5 712.08 L1800.5 712.44 L1801.5 712.8 L1802.5 713.16 L1803.5 713.52 L1804.5 713.88 L1805.5 714.24 L1806.5 714.59 L1807.5 714.95 L1808.5 715.3 L1809.5 715.65 L1810.5 716 L1811.5 716.35 L1812.5 716.7 L1813.5 717.05 L1814.5 717.4 L1815.5 717.75 L1816.5 718.09 L1817.5 718.44 L1818.5 718.78 L1819.5 719.12 L1820.5 719.47 L1821.5 719.81 L1822.5 720.15 L1823.5 720.49 L1824.5 720.82 L1825.5 721.16 L1826.5 721.5 L1827.5 721.83 L1828.5 722.16 L1829.5 722.5 L1830.5 722.83 L1831.5 723.15 L1832.5 723.48 L1833.5 723.81 L1834.5 724.13 L1835.5 724.45 L1836.5 724.77 L1837.5 725.09 L1838.5 725.41 L1839.5 725.72 L1840.5 726.03 L1841.5 726.34 L1842.5 726.65 L1843.5 726.95 L1844.5 727.26 L1845.5 727.56 L1846.5 727.85 L1847.5 728.15 L1848.5 728.44 L1849.5 728.73 L1850.5 729.02 L1851.5 729.3 L1852.5 729.58 L1853.5 729.86 L1854.5 730.13 L1855.5 730.4 L1856.5 730.67 L1857.5 730.93 L1858.5 731.2 L1859.5 731.45 L1860.5 731.71 L1861.5 731.96 L1862.5 732.21 L1863.5 732.45 L1864.5 732.69 L1865.5 732.93 L1866.5 733.17 L1867.5 733.4 L1868.5 733.63 L1869.5 733.85 L1870.5 734.07 L1871.5 734.29 L1872.5 734.5 L1873.5 734.71 L1874.5 734.92 L1875.5 735.13 L1876.5 735.33 L1877.5 735.52 L1878.5 735.72 L1879.5 735.91 L1880.5 736.1 L1881.5 736.28 L1882.5 736.47 L1883.5 736.64 L1884.5 736.82 L1885.5 736.99 L1886.5 737.16 L1887.5 737.33 L1888.5 737.49 L1889.5 737.66 L1890.5 737.82 L1891.5 737.97 L1892.5 738.13 L1893.5 738.28 L1894.5 738.43 L1895.5 738.57 L1896.5 738.72 L1897.5 738.86 L1898.5 739 L1899.5 739.14 L1900.5 739.27 L1901.5 739.41 L1902.5 739.54 L1903.5 739.67 L1904.5 739.8 L1905.5 739.92 L1906.5 740.05 L1907.5 740.17 L1908.5 740.29 L1909.5 740.41 L1910.5 740.53 L1911.5 740.65 L1912.5 740.77 L1913.5 740.88 L1914.5 740.99 L1915.5 741.11 L1916.5 741.22 L1917.5 741.33 L1918.5 741.43 L1919.5 741.54 L1920.5 741.65 L1921.5 741.75 L1922.5 741.86 L1923.5 741.96 L1924.5 742.06 L1925.5 742.16 L1926.5 742.26 L1927.5 742.36 L1928.5 742.46 L1929.5 742.56 L1930.5 742.65 L1931.5 742.75 L1932.5 742.84 L1933.5 742.94 L1934.5 743.03 L1935.5 743.12 L1936.5 743.21 L1937.5 743.3 L1938.5 743.39 L1939.5 743.48 L1940.5 743.57 L1941.5 743.66 L1942.5 743.74 L1943.5 743.83 L1944.5 743.91 L1945.5 744 L1946.5 744.08 L1947.5 744.16 L1948.5 744.24 L1949.5 744.32 L1950.5 744.4 L1951.5 744.48 L1952.5 744.56 L1953.5 744.64 L1954.5 744.71 L1955.5 744.79 L1956.5 744.86 L1957.5 744.94 L1958.5 745.01 L1959.5 745.08 L1960.5 745.15 L1961.5 745.22 L1962.5 745.29 L1963.5 745.36 L1964.5 745.43 L1965.5 745.49 L1966.5 745.56 L1967.5 745.62 L1968.5 745.69 L1969.5 745.75 L1970.5 745.81 L1971.5 745.87 L1972.5 745.93 L1973.5 745.99 L1974.5 746.05 L1975.5 746.11 L1976.5 746.17 L1977.5 746.23 L1978.5 746.28 L1979.5 746.34 L1980.5 746.39 L1981.5 746.45 L1982.5 746.5 L1983.5 746.55 L1984.5 746.6 L1985.5 746.65 L1986.5 746.71 L1987.5 746.76 L1988.5 746.8 L1989.5 746.85 L1990.5 746.9 L1991.5 746.95 L1992.5 747 L1993.5 747.04 L1994.5 747.09 L1995.5 747.13 L1996.5 747.18 L1997.5 747.22 L1998.5 747.26 L1999.5 747.31 L2000.5 747.35 L2001.5 747.39 L2002.5 747.43 L2003.5 747.47 L2004.5 747.51 L2005.5 747.55 L2006.5 747.59 L2007.5 747.63 L2008.5 747.67 L2009.5 747.71 L2010.5 747.74 L2011.5 747.78 L2012.5 747.82 L2013.5 747.85 L2014.5 747.89 L2015.5 747.92 L2016.5 747.96 L2017.5 747.99 L2018.5 748.02 L2019.5 748.06 L2020.5 748.09 L2021.5 748.12 L2022.5 748.15 L2023.5 748.18 L2024.5 748.21 L2025.5 748.24 L2026.5 748.27 L2027.5 748.3 L2028.5 748.33 L2029.5 748.35 L2030.5 748.38 L2031.5 748.41 L2032.5 748.43 L2033.5 748.46 L2034.5 748.49 L2035.5 748.51 L2036.5 748.53 L2037.5 748.56 L2038.5 748.58 L2039.5 748.61 L2040.5 748.63 L2041.5 748.65 L2042.5 748.67 L2043.5 748.69 L2044.5 748.72 L2045.5 748.74 L2046.5 748.76 L2047.5 748.78 L2048.5 748.8 L2049.5 748.81 L2050.5 748.83 L2051.5 748.85 L2052.5 748.87 L2053.5 748.89 L2054.5 748.9 L2055.5 748.92 L2056.5 748.94 L2057.5 748.95 L2058.5 748.97 L2059.5 748.99 L2060.5 749 L2061.5 749.02 L2062.5 749.03 L2063.5 749.04 L2064.5 749.06 L2065.5 749.07 L2066.5 749.09 L2067.5 749.1 L2068.5 749.11 L2069.5 749.12 L2070.5 749.14 L2071.5 749.15 L2072.5 749.16 L2073.5 749.17 L2074.5 749.18 L2075.5 749.19 L2076.5 749.2 L2077.5 749.21 L2078.5 749.22 L2079.5 749.23 L2080.5 749.24 L2081.5 749.25 L2082.5 749.26 L2083.5 749.27 L2084.5 749.28 L2085.5 749.29 L2086.5 749.3" fill="none" stroke="#87ceeb" stroke-width="1.6" stroke-linejoin="round"/>
<path d="M770.06 749.5 V21.5" stroke="#800080" stroke-width="1.75" stroke-dasharray="5.68 2.46" fill="none"/>
<path d="M1044.95 749.5 V21.5" stroke="#ff0000" stroke-width="1.7" fill="none"/>
<path d="M1319.78 749.5 V21.5" stroke="#800080" stroke-width="1.75" stroke-dasharray="5.68 2.46" fill="none"/>
</g>
<rect x="62.5" y="21.5" width="1964.5" height="728" fill="none" stroke="#000" stroke-opacity="0.78" stroke-width="0.9"/>
<g stroke="#000" stroke-opacity="0.8" stroke-width="0.85">
<path d="M62.5 749.5 v3.9"/>
<path d="M308.5 749.5 v3.9"/>
<path d="M553.5 749.5 v3.9"/>
<path d="M799.5 749.5 v3.9"/>
<path d="M1044.5 749.5 v3.9"/>
<path d="M1290.5 749.5 v3.9"/>
<path d="M1535.5 749.5 v3.9"/>
<path d="M1781.5 749.5 v3.9"/>
<path d="M2027 749.5 v3.9"/>
<path d="M62.5 749.5 h-3.9"/>
<path d="M62.5 625.3 h-3.9"/>
<path d="M62.5 500.45 h-3.9"/>
<path d="M62.5 376.3 h-3.9"/>
<path d="M62.5 251.45 h-3.9"/>
<path d="M62.5 127.4 h-3.9"/>
</g>
<g font-size="10.2px">
<text x="62.1" y="765" text-anchor="middle">−4</text>
<text x="307.91" y="765" text-anchor="middle">−3</text>
<text x="553.73" y="765" text-anchor="middle">−2</text>
<text x="799.29" y="765" text-anchor="middle">−1</text>
<text x="1045.25" y="765" text-anchor="middle">0</text>
<text x="1290.41" y="765" text-anchor="middle">1</text>
<text x="1535.97" y="765" text-anchor="middle">2</text>
<text x="1781.54" y="765" text-anchor="middle">3</text>
<text x="2027.1" y="765" text-anchor="middle">4</text>
<text x="54.6" y="753" text-anchor="end">0</text>
<text x="54.6" y="629" text-anchor="end">500</text>
<text x="54.6" y="504" text-anchor="end">1000</text>
<text x="54.6" y="380" text-anchor="end">1500</text>
<text x="54.6" y="256" text-anchor="end">2000</text>
<text x="54.6" y="131" text-anchor="end">2500</text>
<text x="1044.6" y="779.9" text-anchor="middle" textLength="245.8" lengthAdjust="spacing">#stds (Number of Standard Deviations from BB)</text>
<text transform="translate(23.2 387) rotate(-90)" text-anchor="middle">Frequency</text>
</g>
<text x="1044.1" y="15.5" font-size="12.24px" text-anchor="middle" textLength="690" lengthAdjust="spacing">Distribution for 10h of #stds from BB with Key Statistical Boundaries (Limited to ±3 std and Frequency ≤ 15000)</text>
<rect x="1831.6" y="26.6" width="190.1" height="80.6" rx="2" ry="2" fill="#fff" fill-opacity="0.8" stroke="#ccc" stroke-opacity="0.8" stroke-width="1"/>
<g font-size="10.2px">
<path d="M1835.4 35.2 h20.4" stroke="#800080" stroke-width="1.55" stroke-dasharray="5.68 2.46" fill="none"/>
<text x="1863.5" y="39" textLength="54.9" lengthAdjust="spacing">Q1 (#stds)</text>
<path d="M1834.6 50.8 h21.6" stroke="#ff0000" stroke-width="1.55" fill="none"/>
<text x="1863.5" y="54" textLength="77.4" lengthAdjust="spacing">Median (#stds)</text>
<path d="M1835.4 65.7 h20.4" stroke="#800080" stroke-width="1.55" stroke-dasharray="5.68 2.46" fill="none"/>
<text x="1863.5" y="69" textLength="54.9" lengthAdjust="spacing">Q3 (#stds)</text>
<path d="M1835.4 81.05 h20.4" stroke="#008000" stroke-width="1.55" stroke-dasharray="1.53 2.52" fill="none"/>
<text x="1863.5" y="85" textLength="147.9" lengthAdjust="spacing">Lower Bound (Q1 - 1.5 * IQR)</text>
<path d="M1835.4 96.5 h20.4" stroke="#008000" stroke-width="1.55" stroke-dasharray="1.53 2.52" fill="none"/>
<text x="1863.5" y="100" textLength="153.3" lengthAdjust="spacing">Upper Bound (Q3 + 1.5 * IQR)</text>
</g>
</svg></body></html>
